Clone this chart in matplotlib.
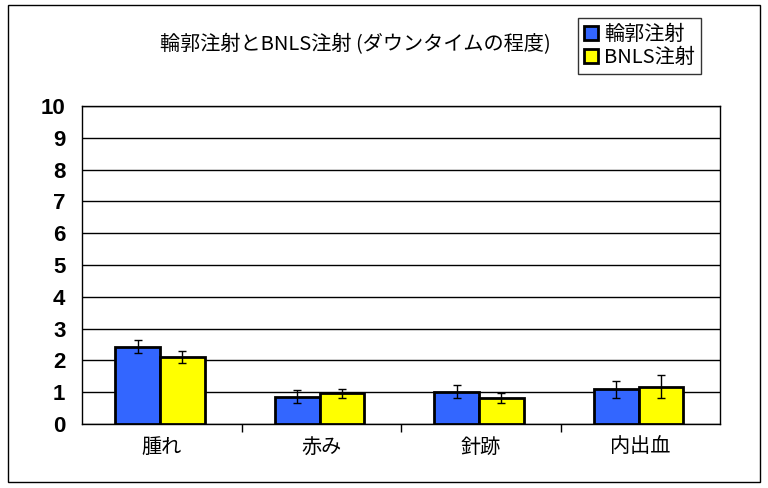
import matplotlib
matplotlib.use("Agg")
import matplotlib.pyplot as plt
import numpy as np
from matplotlib.patches import Rectangle

plt.rcParams['font.family'] = ['Noto Sans CJK JP', 'DejaVu Sans']

categories = ['腫れ', '赤み', '針跡', '内出血']
series_names = ['輪郭注射', 'BNLS注射']
rinkaku = [2.43, 0.86, 1.02, 1.09]
rinkaku_err = [0.21, 0.21, 0.21, 0.26]
bnls = [2.12, 0.96, 0.83, 1.17]
bnls_err = [0.19, 0.13, 0.16, 0.36]
yticks = list(range(0, 11))
title = '輪郭注射とBNLS注射 (ダウンタイムの程度)'

fig = plt.figure(figsize=(7.68, 4.88), dpi=100)
ax = fig.add_axes([82/768, 1-424/488, (720-82)/768, (424-106)/488])

x = np.arange(len(categories))
w = 0.28
ax.bar(x - w/2 - 0.01, rinkaku, w, color='#3366FF', edgecolor='black', linewidth=2,
       yerr=rinkaku_err, capsize=3, error_kw=dict(elinewidth=1, capthick=1, ecolor='black'),
       label=series_names[0], zorder=3)
ax.bar(x + w/2 - 0.01, bnls, w, color='#FFFF00', edgecolor='black', linewidth=2,
       yerr=bnls_err, capsize=3, error_kw=dict(elinewidth=1, capthick=1, ecolor='black'),
       label=series_names[1], zorder=3)

ax.set_xlim(-0.5, len(categories) - 0.5)
ax.set_ylim(0, 10)
ax.set_yticks(yticks)
ax.set_yticklabels([str(v) for v in yticks], fontsize=16, fontweight='bold',
                   family=['Liberation Sans'])
ax.yaxis.grid(True, color='black', linewidth=1, zorder=0)
ax.set_axisbelow(True)
ax.tick_params(axis='y', length=0, pad=12)
ax.set_xticks(x)
ax.set_xticklabels(categories, fontsize=14.5)
ax.tick_params(axis='x', length=0, pad=9)
ax.set_xticks(np.arange(0.5, len(categories) - 0.5, 1), minor=True)
ax.tick_params(axis='x', which='minor', length=6, direction='out', width=1)
for s in ax.spines.values():
    s.set_linewidth(1)
    s.set_color('black')

fig.text(355/768, 1-45/488, title, ha='center', va='center', fontsize=14.5)

leg = fig.legend(loc='upper left', bbox_to_anchor=(578/768, 1-18/488), fontsize=14.5,
                 frameon=True, fancybox=False, edgecolor='black', handlelength=0.7,
                 handleheight=0.7, handletextpad=0.3, borderpad=0.3, labelspacing=0.1,
                 borderaxespad=0)
leg.get_frame().set_linewidth(1)

fig.patches.append(Rectangle((8/768, 1-482/488), (760-8)/768, (482-5)/488,
                             transform=fig.transFigure, fill=False, edgecolor='black',
                             linewidth=1))

fig.savefig('out.png', dpi=100)
